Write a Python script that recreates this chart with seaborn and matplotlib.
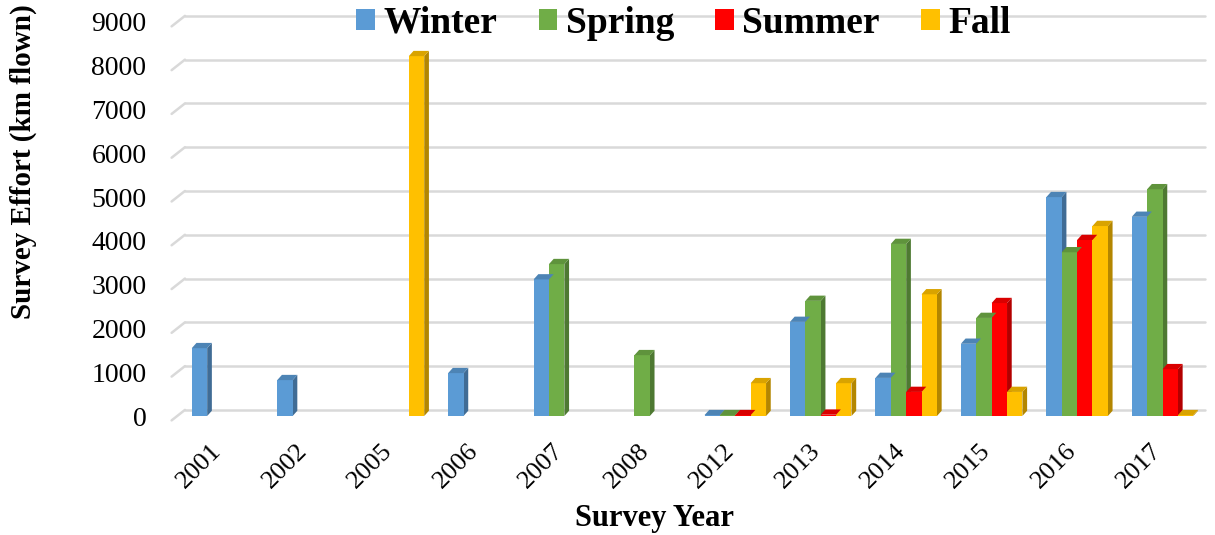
import matplotlib
matplotlib.use("Agg")
import matplotlib.pyplot as plt
import matplotlib.transforms as mtransforms
from matplotlib.patches import Polygon
import matplotlib.colors as mcolors
import numpy as np
import pandas as pd
import seaborn as sns

years = ["2001", "2002", "2005", "2006", "2007", "2008", "2012", "2013", "2014", "2015", "2016", "2017"]
seasons = ["Winter", "Spring", "Summer", "Fall"]
nan = np.nan
winter = [1550, 820, nan, 980, 3120, nan, 20, 2150, 870, 1650, 5000, 4550]
spring = [nan, nan, nan, nan, 3470, 1390, 20, 2630, 3930, 2240, 3740, 5180]
summer = [nan, nan, nan, nan, nan, nan, 20, 30, 550, 2580, 4020, 1070]
fall = [nan, nan, 8220, nan, nan, nan, 750, 750, 2780, 550, 4340, 20]
colors = ["#5B9BD5", "#70AD47", "#FF0000", "#FFC000"]
yticks = np.arange(0, 9001, 1000)

df = pd.DataFrame({"Year": years, "Winter": winter, "Spring": spring,
                   "Summer": summer, "Fall": fall})
long = df.melt(id_vars="Year", var_name="Season", value_name="Effort").dropna()

sns.set_theme(style="white")
plt.rcParams["font.family"] = ["Liberation Serif", "DejaVu Serif"]
for k in ["text.color", "axes.labelcolor", "xtick.color", "ytick.color"]:
    plt.rcParams[k] = "black"

fig = plt.figure(figsize=(12.15, 5.35), dpi=100)
ax = fig.add_axes([0.148, 0.2224, 0.844, 0.7365])

sns.barplot(data=long, x="Year", y="Effort", hue="Season", order=years,
            hue_order=seasons, palette=colors, ax=ax, width=0.72,
            saturation=1, linewidth=0, errorbar=None, zorder=3)

ax.set_ylim(0, 9000)
ax.set_xlim(-0.5, len(years) - 0.5)
ax.set_yticks(yticks)
for s in ax.spines.values():
    s.set_visible(False)

# back-wall gridlines (3D look) with slanted floor stubs at the left
blend = mtransforms.blended_transform_factory(ax.transAxes, ax.transData)
for v in yticks:
    ax.plot([0.005, 1.0], [v + 140, v + 140], transform=blend, color="#D9D9D9",
            linewidth=1.8, zorder=1, clip_on=False)
    ax.plot([-0.008, 0.005], [v - 100, v + 140], transform=blend, color="#D9D9D9",
            linewidth=1.8, zorder=1, clip_on=False)

# pseudo-3D side and top faces derived from bar patches
dx = 0.055
dy = 120
for p in list(ax.patches):
    h = p.get_height()
    if not np.isfinite(h) or h <= 0:
        continue
    x0 = p.get_x()
    x1 = x0 + p.get_width()
    fc = np.array(mcolors.to_rgb(p.get_facecolor()))
    side = Polygon([(x1, 0), (x1 + dx, dy), (x1 + dx, h + dy), (x1, h)],
                   closed=True, facecolor=fc * 0.7, edgecolor="none", zorder=2.9)
    top = Polygon([(x0, h), (x0 + dx, h + dy), (x1 + dx, h + dy), (x1, h)],
                  closed=True, facecolor=fc * 0.85, edgecolor="none", zorder=3.1)
    ax.add_patch(side)
    ax.add_patch(top)

ax.tick_params(axis="y", labelsize=20, length=0, pad=24)
ax.tick_params(axis="x", labelsize=19, length=0, pad=17)
offset = mtransforms.ScaledTranslation(-0.12, 0, fig.dpi_scale_trans)
for lab in ax.get_xticklabels():
    lab.set_rotation(45)
    lab.set_ha("right")
    lab.set_va("top")
    lab.set_rotation_mode("anchor")
    lab.set_transform(lab.get_transform() + offset)

ax.set_xlabel("Survey Year", fontsize=22, fontweight="bold")
ax.set_ylabel("Survey Effort (km flown)", fontsize=21, fontweight="bold")
ax.xaxis.set_label_coords(0.463, -0.224)
ax.yaxis.set_label_coords(-0.139, 0.645)

handles, labels = ax.get_legend_handles_labels()
ax.legend(handles, labels, loc="center", bbox_to_anchor=(0.491, 0.997),
          ncol=4, frameon=False, handlelength=0.5, handleheight=0.5,
          handletextpad=0.22, columnspacing=1.1, borderpad=0,
          prop={"family": "Liberation Serif", "weight": "bold", "size": 27})

fig.savefig("out.png", dpi=100)
